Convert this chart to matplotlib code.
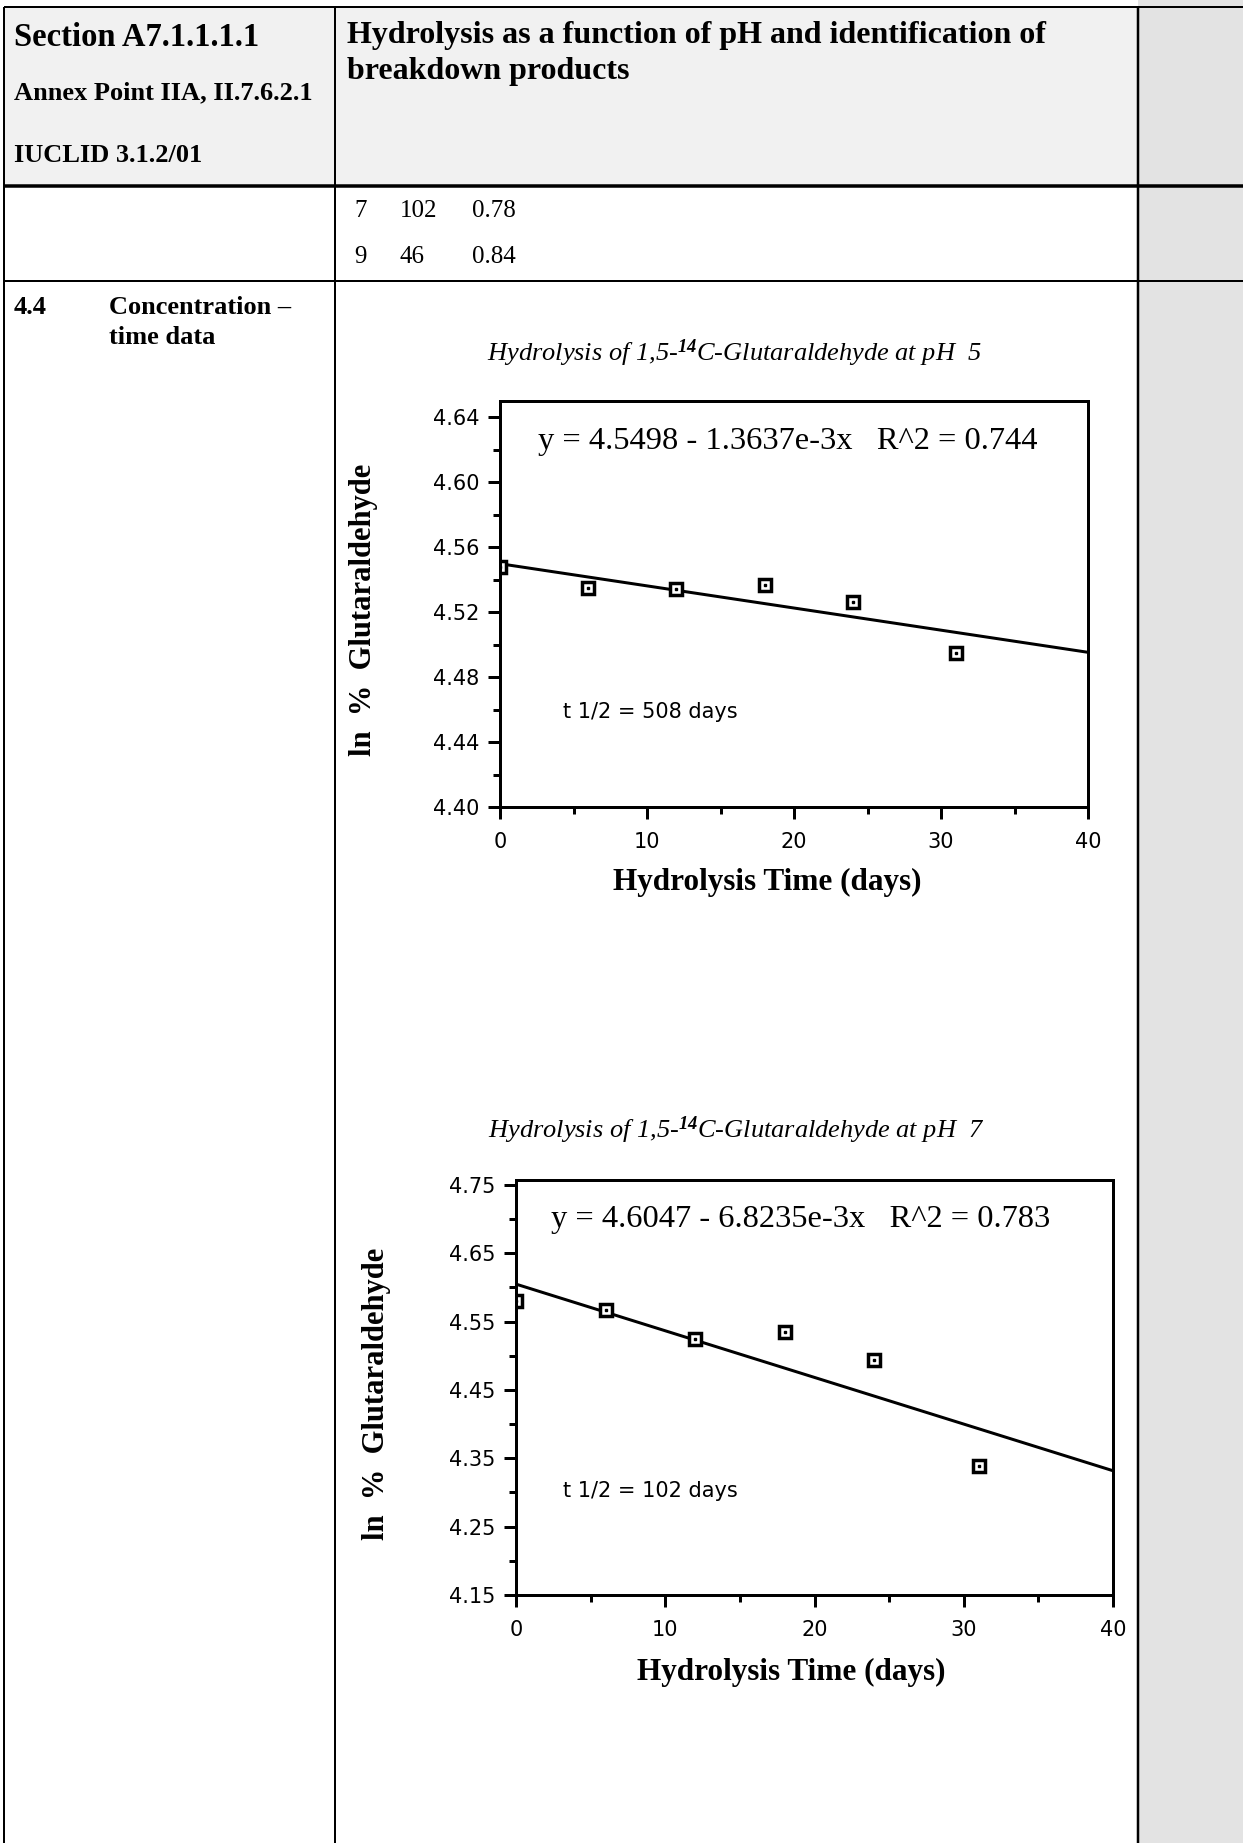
import matplotlib
matplotlib.use("Agg")
import matplotlib.pyplot as plt
from matplotlib.patches import Rectangle
from matplotlib.ticker import MultipleLocator

W, H = 1243, 1843
PX = 0.72  # 1 px in points at dpi 100

# values
days = [0, 6, 12, 18, 24, 31]
ph5_ln = [4.548, 4.535, 4.534, 4.537, 4.526, 4.495]
ph7_ln = [4.580, 4.567, 4.525, 4.535, 4.493, 4.339]
ph5_fit = (4.5498, -1.3637e-3)
ph7_fit = (4.6047, -6.8235e-3)
fit_x = [0, 40]
xticks = [0, 10, 20, 30, 40]
ph5_yticks = [4.40, 4.44, 4.48, 4.52, 4.56, 4.60, 4.64]
ph7_yticks = [4.15, 4.25, 4.35, 4.45, 4.55, 4.65, 4.75]
halflife_rows = [("7", "102", "0.78"), ("9", "46", "0.84")]

plt.rcParams['mathtext.fontset'] = 'custom'
plt.rcParams['mathtext.rm'] = 'Liberation Serif:italic'
plt.rcParams['mathtext.it'] = 'Liberation Serif:italic'
plt.rcParams['mathtext.bf'] = 'Liberation Serif:italic:bold'

fig = plt.figure(figsize=(W / 100, H / 100), dpi=100)
fig.patch.set_facecolor('white')

# page / table layer in pixel coords
bg = fig.add_axes([0, 0, 1, 1], zorder=0)
bg.set_xlim(0, W)
bg.set_ylim(H, 0)
bg.axis('off')

bg.add_patch(Rectangle((1138, 0), W - 1138, H, color='#e3e3e3', lw=0))
bg.add_patch(Rectangle((4, 7), 1134, 179, color='#f1f1f1', lw=0))

def hline(y, lw=2):
    bg.plot([4, W], [y, y], color='black', lw=lw * PX, solid_capstyle='butt')

def vline(x, lw=2):
    bg.plot([x, x], [7, H], color='black', lw=lw * PX, solid_capstyle='butt')

hline(7)
hline(186, 3.5)
hline(281)
vline(4)
vline(335)
vline(1138, 2.5)

serif = 'Liberation Serif'
bg.text(14, 37, 'Section A7.1.1.1.1', family=serif, weight='bold', fontsize=23.5, va='center')
bg.text(14, 93, 'Annex Point IIA, II.7.6.2.1', family=serif, weight='bold', fontsize=19, va='center')
bg.text(14, 156, 'IUCLID 3.1.2/01', family=serif, weight='bold', fontsize=19, va='center')
bg.text(347, 35, 'Hydrolysis as a function of pH and identification of', family=serif,
        weight='bold', fontsize=23, va='center')
bg.text(347, 72, 'breakdown products', family=serif, weight='bold', fontsize=23, va='center')

for i, (ph, t, r) in enumerate(halflife_rows):
    yy = 211 + i * 46
    bg.text(354, yy, ph, family=serif, fontsize=18, va='center')
    bg.text(400, yy, t, family=serif, fontsize=18, va='center')
    bg.text(472, yy, r, family=serif, fontsize=18, va='center')

bg.text(14, 307, '4.4', family=serif, weight='bold', fontsize=19, va='center')
bg.text(109, 307, 'Concentration \u2013', family=serif, weight='bold', fontsize=19, va='center')
bg.text(109, 338, 'time data', family=serif, weight='bold', fontsize=19, va='center')


def ftext(x, y, s, **kw):
    # text on top of the plot axes, placed in page pixels
    fig.text(x / W, 1 - y / H, s, zorder=5, **kw)


def panel(box, y, fit, ylim, yticks, yminor, ph, eq, eq_pos, hl, hl_pos, title_pos, xl_pos, yl_pos):
    left, top, right, bottom = box
    ax = fig.add_axes([left / W, 1 - bottom / H, (right - left) / W, (bottom - top) / H], zorder=2)
    ax.set_xlim(0, 40)
    ax.set_ylim(*ylim)
    ax.set_xticks(xticks)
    ax.set_yticks(yticks)
    ax.xaxis.set_minor_locator(MultipleLocator(5))
    ax.yaxis.set_minor_locator(MultipleLocator(yminor))
    ax.set_yticklabels(['%.2f' % v for v in yticks])
    for s in ax.spines.values():
        s.set_linewidth(3 * PX)
    ax.tick_params(which='both', direction='out', top=False, right=False, width=3 * PX)
    ax.tick_params(which='major', length=12 * PX)
    ax.tick_params(which='minor', length=7 * PX)
    ax.tick_params(axis='y', which='major', labelsize=15, pad=6)
    ax.tick_params(axis='x', which='major', labelsize=15, pad=9)
    for lab in ax.get_xticklabels() + ax.get_yticklabels():
        lab.set_family('DejaVu Sans')

    ax.plot(fit_x, [fit[0] + fit[1] * v for v in fit_x], color='black', lw=3 * PX)
    ax.plot(days, y, ls='none', marker='s', ms=8, mfc='white', mec='black', mew=2.5)
    ax.plot(days, y, ls='none', marker='s', ms=1.8, color='black')

    bg.text(title_pos[0], title_pos[1],
            r'Hydrolysis of 1,5-$^{\mathbf{14}}$C-Glutaraldehyde at pH  ' + ph,
            family=serif, style='italic', fontsize=19, ha='center', va='center')
    ftext(eq_pos[0], eq_pos[1], eq, family=serif, fontsize=23.4, va='center')
    ftext(hl_pos[0], hl_pos[1], hl, family='DejaVu Sans', fontsize=15, va='center')
    bg.text(xl_pos[0], xl_pos[1], 'Hydrolysis Time (days)', family=serif, weight='bold',
            fontsize=22.5, ha='center', va='center')
    bg.text(yl_pos[0], yl_pos[1], 'ln  %  Glutaraldehyde', family=serif, weight='bold',
            fontsize=22, ha='center', va='center', rotation=90)
    return ax


ax1 = panel((500, 401, 1088, 807), ph5_ln, ph5_fit, (4.40, 4.65), ph5_yticks, 0.02, '5',
            'y = 4.5498 - 1.3637e-3x   R^2 = 0.744', (538, 442),
            't 1/2 = 508 days', (563, 712), (734, 353), (767, 882), (364, 610))
ax2 = panel((516, 1180, 1113, 1595), ph7_ln, ph7_fit, (4.15, 4.757), ph7_yticks, 0.05, '7',
            'y = 4.6047 - 6.8235e-3x   R^2 = 0.783', (551, 1220),
            't 1/2 = 102 days', (563, 1491), (736, 1130), (791, 1672), (377, 1394))

fig.savefig('out.png', dpi=100)
